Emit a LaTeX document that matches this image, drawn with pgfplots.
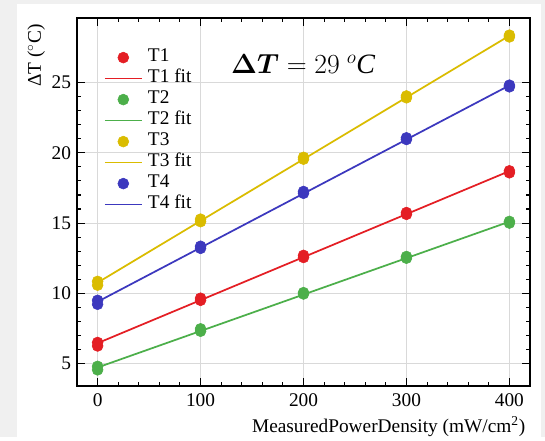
\documentclass[border=0pt]{standalone}
\usepackage{pgfplots}
\pgfplotsset{compat=1.18}
\usepackage{amsmath}
\usepackage{bm}
\usepackage{fontspec}
\setmainfont{Liberation Serif}

\definecolor{cRed}{RGB}{228,30,36}
\definecolor{cGreen}{RGB}{76,175,74}
\definecolor{cYellow}{RGB}{218,188,0}
\definecolor{cBlue}{RGB}{60,56,190}
\definecolor{pagegrey}{RGB}{240,240,240}

% repeated measurements (two readings per power density)
\pgfplotstableread{
x    y
0    6.25
0    6.50
100  9.50
100  9.65
200  12.55
200  12.70
300  15.62
300  15.75
400  18.58
400  18.72
}\tA
\pgfplotstableread{
x    y
0    4.55
0    4.80
100  7.30
100  7.47
200  9.95
200  10.05
300  12.50
300  12.62
400  15.00
400  15.12
}\tB
\pgfplotstableread{
x    y
0    10.58
0    10.85
100  15.10
100  15.28
200  19.55
200  19.68
300  23.92
300  24.05
400  28.25
400  28.38
}\tC
\pgfplotstableread{
x    y
0    9.22
0    9.50
100  13.20
100  13.35
200  17.12
200  17.25
300  20.95
300  21.07
400  24.70
400  24.82
}\tD

\begin{document}
\begin{tikzpicture}[x=1pt,y=1pt]
% page background and white figure area
\fill[pagegrey] (-57.75,-38.25) rectangle (351,289.5);
\fill[white] (-45,-38.25) rectangle (348,286.5);
\begin{axis}[
  scale only axis,
  width=339.75pt, height=276pt,
  xmin=-20, xmax=420,
  ymin=3.4, ymax=29.6,
  xtick={0,100,200,300,400},
  ytick={5,10,15,20,25},
  minor x tick num=4,
  minor y tick num=4,
  tick align=inside,
  tick pos=both,
  major tick length=6pt,
  minor tick length=3pt,
  every tick/.style={black, line width=0.8pt},
  axis line style={black, line width=1pt},
  grid=major,
  major grid style={gray!30, line width=0.6pt},
  tick label style={font=\fontsize{14.5}{16}\selectfont},
  /pgf/number format/assume math mode=true,
  xticklabel style={yshift=-2pt},
  yticklabel style={xshift=-1pt},
  label style={font=\fontsize{14.5}{16}\selectfont},
  xlabel={MeasuredPowerDensity (mW/cm\textsuperscript{2})},
  xlabel style={at={(axis description cs:1,-0.11)}, anchor=east},
  ylabel={ΔT ($^\circ$C)},
  ylabel style={at={(axis description cs:-0.09,0.995)}, anchor=east},
  legend cell align=left,
  legend image code/.code={\draw[mark repeat=2,mark phase=2] plot coordinates {(0pt,0pt) (13.9pt,0pt) (27.75pt,0pt)};},
  legend style={
    draw=none, fill=none,
    at={(axis description cs:0.05,0.927)}, anchor=north west,
    font=\fontsize{14.5}{16}\selectfont,
    row sep=1.05pt,
    column sep=0pt,
    nodes={inner sep=0pt, text height=10.5pt, text depth=4.2pt, inner xsep=4pt},
  },
]
\addplot[only marks, mark=*, mark size=4.1pt, cRed, mark options={draw=cRed, fill=cRed}] table[x=x,y=y] {\tA};
\addlegendentry{T1}
\addplot[cRed, line width=1.3pt] coordinates {(0,6.45) (400,18.70)};
\addlegendentry{T1 fit}
\addplot[only marks, mark=*, mark size=4.1pt, cGreen, mark options={draw=cGreen, fill=cGreen}] table[x=x,y=y] {\tB};
\addlegendentry{T2}
\addplot[cGreen, line width=1.3pt] coordinates {(0,4.72) (400,15.10)};
\addlegendentry{T2 fit}
\addplot[only marks, mark=*, mark size=4.1pt, cYellow, mark options={draw=cYellow, fill=cYellow}] table[x=x,y=y] {\tC};
\addlegendentry{T3}
\addplot[cYellow, line width=1.3pt] coordinates {(0,10.76) (400,28.34)};
\addlegendentry{T3 fit}
\addplot[only marks, mark=*, mark size=4.1pt, cBlue, mark options={draw=cBlue, fill=cBlue}] table[x=x,y=y] {\tD};
\addlegendentry{T4}
\addplot[cBlue, line width=1.3pt] coordinates {(0,9.40) (400,24.80)};
\addlegendentry{T4 fit}
\node[anchor=base west, font=\fontsize{21}{24}\selectfont] at (axis description cs:0.33,0.85) {$\bm{\Delta T} = 29\ ^{o}\mathit{C}$};
\end{axis}
\end{tikzpicture}
\end{document}
